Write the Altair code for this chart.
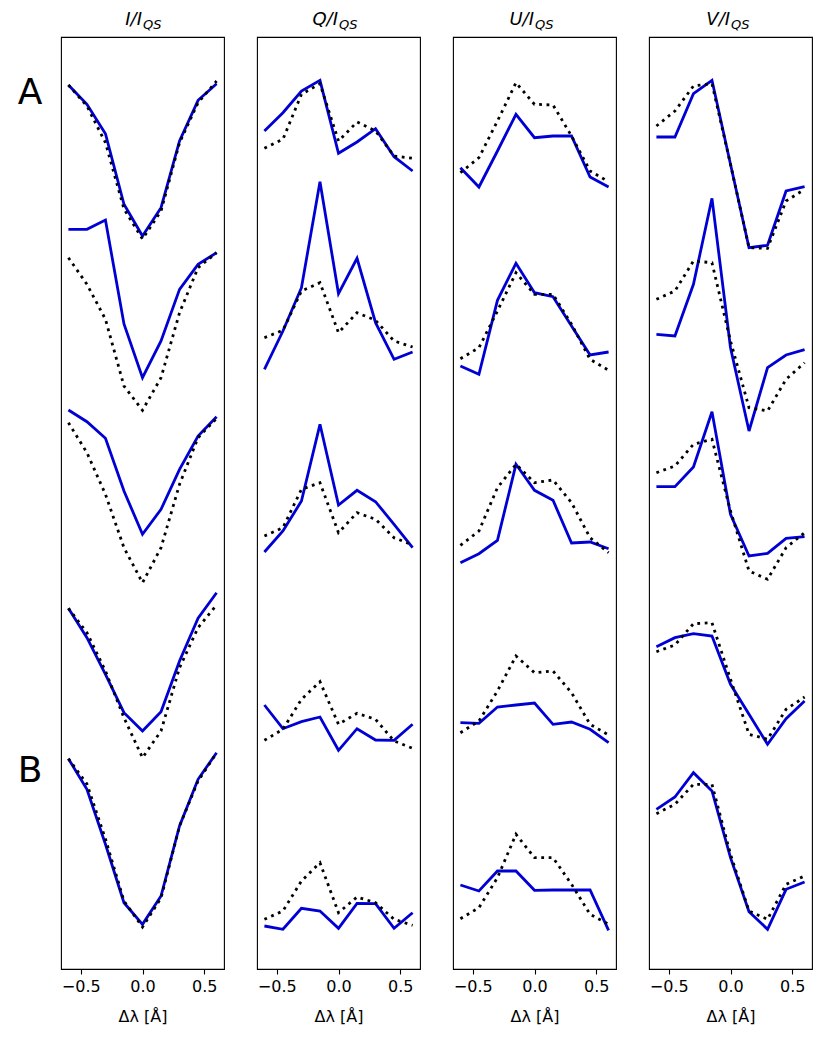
import altair as alt
import pandas as pd

xs = [-0.6, -0.45, -0.3, -0.15, 0.0, 0.15, 0.3, 0.45, 0.6]
titles = ["I", "Q", "U", "V"]

# five stacked profiles per Stokes parameter (offset units), solid = blue, dotted = black
I_solid = [
    [884, 864.7, 835.3, 764.7, 733, 761.3, 828, 868.7, 885.3],
    [739.7, 739.7, 749, 645, 591.3, 628, 679.7, 704.7, 716.3],
    [559, 547.3, 530.7, 478, 434.7, 459.7, 499.7, 533, 552.3],
    [360.7, 331.3, 294.7, 256.3, 238, 257.3, 308, 350.7, 376.3],
    [210.3, 179.7, 124.7, 66.3, 44.7, 73, 143, 189.7, 216.3],
]
I_dotted = [
    [884, 863, 826.3, 760, 730, 758, 826.3, 866.3, 888],
    [711.3, 684.7, 649.7, 583, 558.7, 591.3, 656.3, 701.3, 716.3],
    [546.3, 516.3, 474.7, 421.3, 386.3, 421.3, 484.7, 531.3, 550.7],
    [360.7, 336.3, 298, 251.3, 211.3, 238, 301.3, 341.3, 364],
    [210.3, 185, 130, 68, 42, 71, 143, 188, 216],
]
Q_solid = [
    [838, 856.3, 878, 888.7, 815.7, 827, 840.3, 812.3, 798],
    [599.7, 638, 681.3, 787.3, 675.3, 710.7, 646.3, 609.7, 617],
    [417, 438, 468, 544.7, 464, 478.7, 467.3, 444.7, 421.3],
    [264, 240.3, 247.3, 252, 218.7, 240.3, 229, 228.7, 244.7],
    [43, 39.7, 60.7, 58, 40.7, 65.7, 65.3, 40.7, 56.3],
]
Q_dotted = [
    [820.7, 829.7, 874.7, 885.3, 828, 847, 838, 813, 810.7],
    [631.3, 638.7, 678, 686.3, 636.3, 656.3, 648.7, 628, 622],
    [433, 441.3, 479.7, 486.3, 436.3, 456.3, 449.7, 431.3, 424],
    [228.7, 239.7, 269.7, 287.3, 244.7, 255.7, 249.7, 228, 220.7],
    [49.7, 58, 88, 106.3, 56.3, 72, 66.3, 49.7, 43.7],
]
U_solid = [
    [801.3, 782, 818, 854.7, 831.3, 833, 833, 792, 782],
    [603, 594.7, 668.7, 705.7, 676.3, 672.3, 643, 614, 617],
    [406.3, 415.3, 428.7, 504.7, 478.7, 468.7, 426, 427, 420.3],
    [246.3, 245.7, 262, 264, 266, 244.7, 247, 239.7, 226.3],
    [84, 78, 98, 98, 78.7, 79, 79, 79, 38.7],
]
U_dotted = [
    [796.3, 811.3, 848, 886.3, 864.7, 864, 833, 798, 787.3],
    [610.3, 621.3, 658, 696.3, 674.7, 674.7, 644.7, 609.7, 598.7],
    [423.7, 438, 481.3, 504.7, 486.3, 489, 466.3, 431.3, 416.3],
    [236.3, 248, 278, 313, 296.3, 298, 276.3, 244.7, 234],
    [50.3, 61.3, 91.3, 134.7, 111.3, 111.3, 84.7, 54.7, 44.7],
]
V_solid = [
    [832, 832, 875.3, 888.7, 804.7, 721.3, 723.7, 778, 782.3],
    [634.7, 633, 684.7, 770.7, 621.3, 538, 601.3, 614, 619.3],
    [482.3, 482.3, 502, 557.3, 454.7, 413, 415.7, 430.7, 432.3],
    [322.3, 331.3, 335.3, 333, 284.7, 254.7, 224.7, 250.3, 268],
    [159.7, 172, 196.3, 178, 111.3, 57.3, 39.7, 79.7, 87],
]
V_dotted = [
    [843, 858, 883, 885.3, 804.7, 721.3, 720.7, 768, 779.7],
    [669.7, 678, 708, 706.3, 628, 561.3, 558, 589.7, 606.3],
    [496.3, 503, 524.7, 529.7, 458, 398, 389.7, 421.3, 436.3],
    [317.3, 324, 345.3, 346.3, 289.7, 234.7, 229.7, 259.7, 272],
    [155.3, 164.7, 184.7, 184.7, 114.7, 58, 49.7, 84.7, 93],
]
row_labels = ["A", "B"]
row_label_y = [876, 198]

FONT = "DejaVu Sans"
W, H = 163, 932


def to_df(profiles):
    rows = []
    for k, prof in enumerate(profiles):
        for x, v in zip(xs, prof):
            rows.append({"prof": k, "x": x, "y": v})
    return pd.DataFrame(rows)


def panel(name, sol, dot, first=False):
    xenc = alt.X("x:Q", scale=alt.Scale(domain=[-0.66, 0.66], nice=False, zero=False),
                 axis=alt.Axis(values=[-0.5, 0.0, 0.5], format=".1f", title="Δλ [Å]"))
    yenc = alt.Y("y:Q", scale=alt.Scale(domain=[0, 932], nice=False, zero=False), axis=None)
    solid = alt.Chart(to_df(sol)).mark_line(color="#0000d4", strokeWidth=2.8).encode(
        x=xenc, y=yenc, detail="prof:N")
    dotted = alt.Chart(to_df(dot)).mark_line(color="black", strokeWidth=2.8,
                                             strokeDash=[2.8, 4.6], strokeCap="butt").encode(
        x=xenc, y=yenc, detail="prof:N")
    t1 = alt.Chart(pd.DataFrame({"t": [name + "/I"]})).mark_text(
        align="right", baseline="alphabetic", font=FONT, fontStyle="italic", fontSize=18,
        color="black").encode(x=alt.value(81), y=alt.value(-12), text="t:N")
    t2 = alt.Chart(pd.DataFrame({"t": ["QS"]})).mark_text(
        align="left", baseline="alphabetic", font=FONT, fontStyle="italic", fontSize=13,
        color="black").encode(x=alt.value(82), y=alt.value(-8), text="t:N")
    layers = [solid, dotted, t1, t2]
    if first:
        lab = alt.Chart(pd.DataFrame({"t": row_labels, "y": row_label_y})).mark_text(
            align="center", baseline="middle", font=FONT, fontSize=36, color="black").encode(
            x=alt.value(-31), y=alt.Y("y:Q", scale=alt.Scale(domain=[0, 932], nice=False, zero=False), axis=None),
            text="t:N")
        layers.append(lab)
    return alt.layer(*layers).properties(width=W, height=H)


data = [(I_solid, I_dotted), (Q_solid, Q_dotted), (U_solid, U_dotted), (V_solid, V_dotted)]
panels = [panel(t, s, d, first=(i == 0)) for i, (t, (s, d)) in enumerate(zip(titles, data))]

chart = alt.hconcat(*panels, spacing=31).properties(
    padding={"left": 9, "top": 2, "right": 5, "bottom": 5}
).configure_view(stroke="black", strokeWidth=1.1).configure_axis(
    labelFont=FONT, labelFontSize=16, labelColor="black", titleFont=FONT,
    titleFontSize=16, titleFontWeight="normal", titleColor="black", tickColor="black",
    tickSize=5, tickWidth=1.1, domain=False, grid=False, labelPadding=4, titlePadding=14
)

chart.save("out.html", embed_options={"renderer": "svg", "actions": False})
